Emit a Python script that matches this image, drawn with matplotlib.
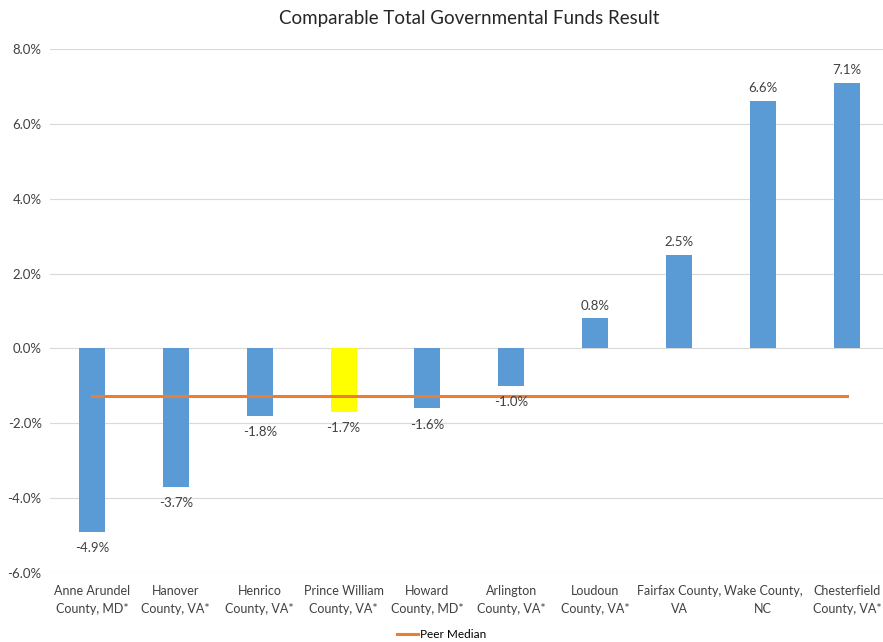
import matplotlib.pyplot as plt
import numpy as np

counties = ["Anne Arundel\nCounty, MD*", "Hanover\nCounty, VA*", "Henrico\nCounty, VA*",
            "Prince William\nCounty, VA*", "Howard\nCounty, MD*", "Arlington\nCounty, VA*",
            "Loudoun\nCounty, VA*", "Fairfax County,\nVA", "Wake County,\nNC",
            "Chesterfield\nCounty, VA*"]
results = [-4.9, -3.7, -1.8, -1.7, -1.6, -1.0, 0.8, 2.5, 6.6, 7.1]
peer_median = -1.28
yticks = [-6, -4, -2, 0, 2, 4, 6, 8]

plt.rcParams['font.family'] = ['Lato', 'DejaVu Sans']

fig = plt.figure(figsize=(8.83, 6.42), dpi=100)
ax = fig.add_axes([0.0566, 0.1075, 0.950, 0.8162])

x = np.arange(len(counties))
colors = ['#5B9BD5'] * len(counties)
colors[3] = '#FFFF00'
ax.bar(x, results, width=0.31, color=colors, zorder=2)

ax.plot(x, [peer_median] * len(x), color='#ED7D31', linewidth=2.2, zorder=3, label='Peer Median')

for xi, v in zip(x, results):
    if v >= 0:
        ax.annotate(f"{v:.1f}%", (xi, v), xytext=(0, 5), textcoords='offset points',
                    ha='center', va='bottom', fontsize=9.5, color='#404040')
    else:
        ax.annotate(f"{v:.1f}%", (xi, v), xytext=(0, -7.5), textcoords='offset points',
                    ha='center', va='top', fontsize=9.5, color='#404040')

ax.set_xlim(-0.5, len(counties) - 0.5)
ax.set_ylim(-6, 8)
ax.set_yticks(yticks)
ax.set_yticklabels([f"{t:.1f}%" for t in yticks], fontsize=9.5, color='#404040')
ax.set_xticks(x)
ax.set_xticklabels(counties, fontsize=9, color='#404040', linespacing=1.55)
ax.tick_params(axis='both', length=0, pad=6)
ax.tick_params(axis='x', pad=9)
ax.grid(axis='y', color='#D9D9D9', linewidth=0.8, zorder=0)
for s in ax.spines.values():
    s.set_visible(False)

ax.set_title('Comparable Total Governmental Funds Result', fontsize=13.5, color='#262626', pad=18)
fig.legend(loc='lower center', bbox_to_anchor=(0.5, -0.014), frameon=False, fontsize=8.5,
           handlelength=1.8, handletextpad=0.1)

fig.savefig('out.png', dpi=100)
